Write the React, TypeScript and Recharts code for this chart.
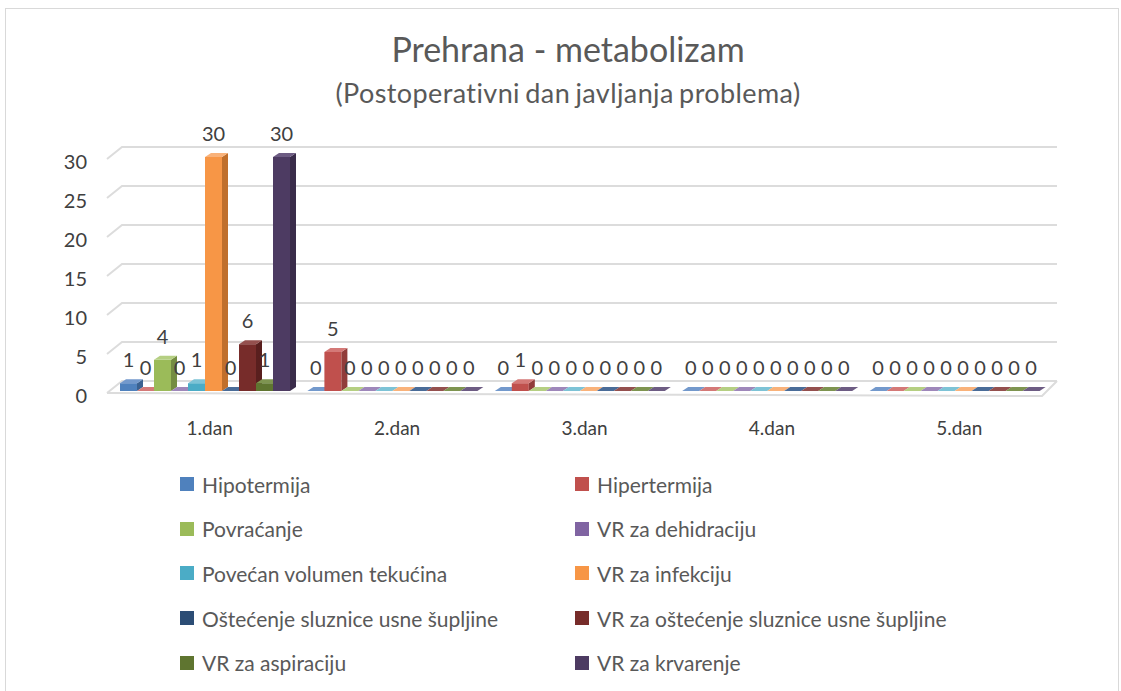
import React from 'react';
import { BarChart, Bar, XAxis, YAxis, CartesianGrid, LabelList } from 'recharts';

const days = ['1.dan', '2.dan', '3.dan', '4.dan', '5.dan'];

const hipotermija = [1, 0, 0, 0, 0];
const hipertermija = [0, 5, 1, 0, 0];
const povracanje = [4, 0, 0, 0, 0];
const dehidracija = [0, 0, 0, 0, 0];
const volumen = [1, 0, 0, 0, 0];
const infekcija = [30, 0, 0, 0, 0];
const ostecenje = [0, 0, 0, 0, 0];
const vrOstecenje = [6, 0, 0, 0, 0];
const aspiracija = [1, 0, 0, 0, 0];
const krvarenje = [30, 0, 0, 0, 0];

const yTicks = [0, 5, 10, 15, 20, 25, 30];

const series = [
  { key: 's0', name: 'Hipotermija', values: hipotermija, front: '#4F81BD', side: '#3A6190', top: '#7399CC' },
  { key: 's1', name: 'Hipertermija', values: hipertermija, front: '#C0504D', side: '#913C3A', top: '#D47977' },
  { key: 's2', name: 'Povraćanje', values: povracanje, front: '#9BBB59', side: '#748D42', top: '#B5CF82' },
  { key: 's3', name: 'VR za dehidraciju', values: dehidracija, front: '#8064A2', side: '#604B7A', top: '#9E87BA' },
  { key: 's4', name: 'Povećan volumen tekućina', values: volumen, front: '#4BACC6', side: '#388195', top: '#7DC3D6' },
  { key: 's5', name: 'VR za infekciju', values: infekcija, front: '#F79646', side: '#C06F2C', top: '#F9B27A' },
  { key: 's6', name: 'Oštećenje sluznice usne šupljine', values: ostecenje, front: '#2C4D75', side: '#1E3552', top: '#4A6C98' },
  { key: 's7', name: 'VR za oštećenje sluznice usne šupljine', values: vrOstecenje, front: '#772C2A', side: '#591F1E', top: '#94504E' },
  { key: 's8', name: 'VR za aspiraciju', values: aspiracija, front: '#5F7530', side: '#475823', top: '#7E9450' },
  { key: 's9', name: 'VR za krvarenje', values: krvarenje, front: '#4D3B62', side: '#3A2C4A', top: '#6D5C83' },
];

const data = days.map((day, i) => {
  const row: any = { day };
  series.forEach((s) => { row[s.key] = s.values[i]; });
  return row;
});

const FONT = 'Lato, "Open Sans", sans-serif';
const DX = 6;
const DY = 4;
const SHIFT = -2;
const PLOT_BOTTOM = 391;

const makeShape = (s: any) => (p: any) => {
  const { width, height } = p;
  const x = p.x + SHIFT;
  const y = p.y;
  const w = width;
  const h = Math.max(height, 0);
  return (
    <g>
      <rect x={x} y={y} width={w} height={h} fill={s.front} />
      <polygon points={`${x + w},${y} ${x + w + DX},${y - DY} ${x + w + DX},${y + h - DY} ${x + w},${y + h}`} fill={s.side} />
      <polygon points={`${x},${y} ${x + DX},${y - DY} ${x + w + DX},${y - DY} ${x + w},${y}`} fill={s.top} />
    </g>
  );
};

const valueLabel = (p: any) => {
  const { x, y, width, value } = p;
  return (
    <text x={x + SHIFT + width / 2} y={y - 23} dy="0.35em" textAnchor="middle" fontFamily={FONT} fontSize={20} fill="#404040">
      {value}
    </text>
  );
};

const gridLine = (p: any) => {
  const { x1, x2, y1, key } = p;
  const fy = y1 + 2;
  const isFloor = Math.abs(y1 - PLOT_BOTTOM) < 1;
  return (
    <g key={key}>
      <path d={`M${x1 - 4},${fy} L${x1 + 11},${fy - 12} L${x2 + 9},${fy - 12}`} stroke="#dcdcdc" strokeWidth={2} fill="none" />
      {isFloor && (
        <path d={`M${x1 - 4},${fy} L${x2 - 6},${fy + 3} L${x2 + 9},${fy - 12}`} stroke="#dcdcdc" strokeWidth={2} fill="none" />
      )}
    </g>
  );
};

const yTick = (p: any) => {
  const { x, y, payload } = p;
  return (
    <text x={x + 2} y={y + 5} dy="0.35em" textAnchor="end" fontFamily={FONT} fontSize={20} fill="#404040">
      {payload.value}
    </text>
  );
};

const xTick = (p: any) => {
  const { x, y, payload } = p;
  return (
    <text x={x + 5} y={y + 37} dy="0.35em" textAnchor="middle" fontFamily={FONT} fontSize={19} fill="#404040">
      {payload.value}
    </text>
  );
};

export default function App() {
  return (
    <div style={{ position: 'absolute', left: 0, top: 0, width: 1121, height: 691, background: '#fff', overflow: 'hidden' }}>
      <div style={{ position: 'absolute', left: 5, top: 8, width: 1112, height: 720, border: '1px solid #d9d9d9' }} />
      <div style={{ position: 'absolute', left: 0, top: 28, width: 1136, textAlign: 'center', fontFamily: FONT, fontSize: 34, color: '#595959' }}>
        Prehrana - metabolizam
      </div>
      <div style={{ position: 'absolute', left: 0, top: 76, width: 1136, textAlign: 'center', fontFamily: FONT, fontSize: 27, letterSpacing: 0.4, wordSpacing: -2, color: '#595959' }}>
        (Postoperativni dan javljanja problema)
      </div>
      <div style={{ position: 'absolute', left: 0, top: 0 }}>
        <BarChart
          width={1121}
          height={440}
          data={data}
          margin={{ top: 157, right: 73, left: 0, bottom: 19 }}
          barGap={0}
          barCategoryGap={11}
        >
          <CartesianGrid vertical={false} horizontal={gridLine} />
          <XAxis dataKey="day" axisLine={false} tickLine={false} tickSize={0} tickMargin={0} height={30} tick={xTick} />
          <YAxis domain={[0, 30]} ticks={yTicks} axisLine={false} tickLine={false} tickSize={0} tickMargin={26} width={111} tick={yTick} />
          {series.map((s) => (
            <Bar key={s.key} dataKey={s.key} name={s.name} fill={s.front} isAnimationActive={false} shape={makeShape(s)}>
              <LabelList dataKey={s.key} content={valueLabel} />
            </Bar>
          ))}
        </BarChart>
      </div>
      {series.map((s, i) => {
        const col = i % 2;
        const row = Math.floor(i / 2);
        const left = col === 0 ? 180 : 575;
        const cy = 484 + row * 44.7;
        return (
          <div key={s.key} style={{ position: 'absolute', left, top: cy - 14, height: 28, display: 'flex', alignItems: 'center', fontFamily: FONT, fontSize: 21, color: '#595959', whiteSpace: 'nowrap' }}>
            <span style={{ display: 'inline-block', width: 14, height: 14, background: s.front, marginRight: 8 }} />
            <span>{s.name}</span>
          </div>
        );
      })}
    </div>
  );
}
